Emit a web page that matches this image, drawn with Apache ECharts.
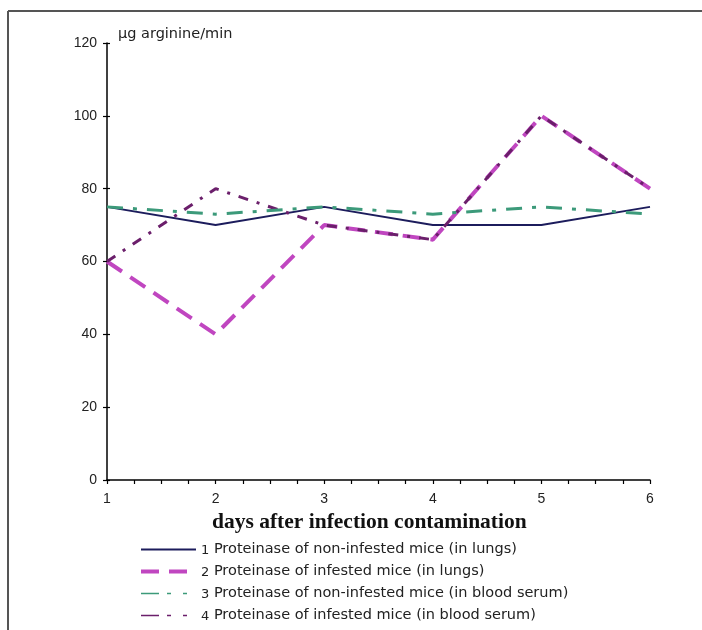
<!DOCTYPE html>
<html>
<head>
<meta charset="utf-8">
<script src="https://cdn.jsdelivr.net/npm/echarts@6/dist/echarts.min.js"></script>
<style>html,body{margin:0;padding:0;background:#fff;}#c{width:702px;height:630px;}</style>
</head>
<body>
<div id="c"></div>
<script>
const days = [1, 2, 3, 4, 5, 6];
const seriesNames = [
  'Proteinase of non-infested mice (in lungs)',
  'Proteinase of infested mice (in lungs)',
  'Proteinase of non-infested mice (in blood serum)',
  'Proteinase of infested mice (in blood serum)'
];
const nonInfestedLungs = [75, 70, 75, 70, 70, 75];
const infestedLungs = [60, 40, 70, 66, 100, 80];
const nonInfestedSerum = [75, 73, 75, 73, 75, 73];
const infestedSerum = [60, 80, 70, 66, 100, 80];
const yTicks = [0, 20, 40, 60, 80, 100, 120];

const pairs = arr => days.map((d, i) => [d, arr[i]]);
const chart = echarts.init(document.getElementById('c'));
const axisLine = {show: true, lineStyle: {color: '#000', width: 1.5}};
const hidden = {opacity: 0};
chart.setOption({
  animation: false,
  backgroundColor: '#fff',
  grid: {left: 107, right: 52, top: 43, bottom: 150},
  xAxis: {
    type: 'value', min: 1, max: 6, interval: 1,
    axisLine: axisLine,
    axisTick: {show: true, length: 4, lineStyle: {color: '#000', width: 1.2}},
    minorTick: {show: true, splitNumber: 4, length: 4, lineStyle: {color: '#000', width: 1.2}},
    splitLine: {show: false},
    axisLabel: {margin: 12, fontFamily: 'Liberation Sans', fontSize: 14, color: '#222'}
  },
  yAxis: [{
    type: 'value', min: 0, max: 120, interval: 20,
    axisLine: axisLine,
    axisTick: {show: true, length: 4, lineStyle: {color: '#000', width: 1.2}},
    splitLine: {show: false},
    axisLabel: {margin: 10, fontFamily: 'Liberation Sans', fontSize: 14, color: '#222',
      formatter: v => yTicks.includes(v) ? String(v) : ''}
  }, {
    type: 'value', min: 0, max: 120, interval: 20, position: 'left', offset: 0,
    axisLine: {show: false},
    axisTick: {show: true, inside: true, length: 3, lineStyle: {color: '#000', width: 1.2}},
    axisLabel: {show: false}, splitLine: {show: false}
  }],
  legend: {
    orient: 'vertical', left: 139, top: 542, padding: 0, itemWidth: 55, itemHeight: 12, itemGap: 6.5,
    data: [
      {name: seriesNames[0], itemStyle: hidden, lineStyle: {width: 2}},
      {name: seriesNames[1], itemStyle: hidden, lineStyle: {width: 4, type: [18, 10]}},
      {name: seriesNames[2], itemStyle: hidden, lineStyle: {width: 1.5, type: [18, 8, 4, 12, 4, 20]}},
      {name: seriesNames[3], itemStyle: hidden, lineStyle: {width: 1.5, type: [18, 8, 4, 12, 4, 20]}}
    ],
    formatter: name => '{n|' + (seriesNames.indexOf(name) + 1) + '} ' + name,
    textStyle: {fontFamily: 'DejaVu Sans', fontSize: 14.5, color: '#222',
      rich: {n: {fontFamily: 'DejaVu Sans', fontSize: 13, color: '#222', padding: [3, 0, 0, 0]}}}
  },
  graphic: [
    {type: 'line', shape: {x1: 8, y1: 11, x2: 702, y2: 11}, style: {stroke: '#555', lineWidth: 2}},
    {type: 'line', shape: {x1: 8, y1: 11, x2: 8, y2: 630}, style: {stroke: '#555', lineWidth: 2}},
    {type: 'text', left: 118, top: 27, style: {text: 'µg arginine/min', fontFamily: 'DejaVu Sans', fontSize: 14.5, fill: '#222'}},
    {type: 'text', left: 212, top: 511, style: {text: 'days after infection contamination', fontFamily: 'Liberation Serif', fontWeight: 'bold', fontSize: 21.5, fill: '#111'}}
  ],
  series: [
    {name: seriesNames[0], type: 'line', data: pairs(nonInfestedLungs), symbol: 'none', z: 3,
      itemStyle: {color: '#1c1c5c'}, lineStyle: {color: '#1c1c5c', width: 2}},
    {name: seriesNames[1], type: 'line', data: pairs(infestedLungs), symbol: 'none', z: 2,
      itemStyle: {color: '#c046c0'}, lineStyle: {color: '#c046c0', width: 4, type: [18, 10]}},
    {name: seriesNames[2], type: 'line', data: pairs(nonInfestedSerum), symbol: 'none', z: 4,
      itemStyle: {color: '#3c9a7a'}, lineStyle: {color: '#3c9a7a', width: 3, type: [16, 10, 4, 10]}},
    {name: seriesNames[3], type: 'line', data: pairs(infestedSerum), symbol: 'none', z: 3,
      itemStyle: {color: '#6b1f6b'}, lineStyle: {color: '#6b1f6b', width: 3, type: [10, 9, 3, 9]}}
  ]
});
</script>
</body>
</html>
